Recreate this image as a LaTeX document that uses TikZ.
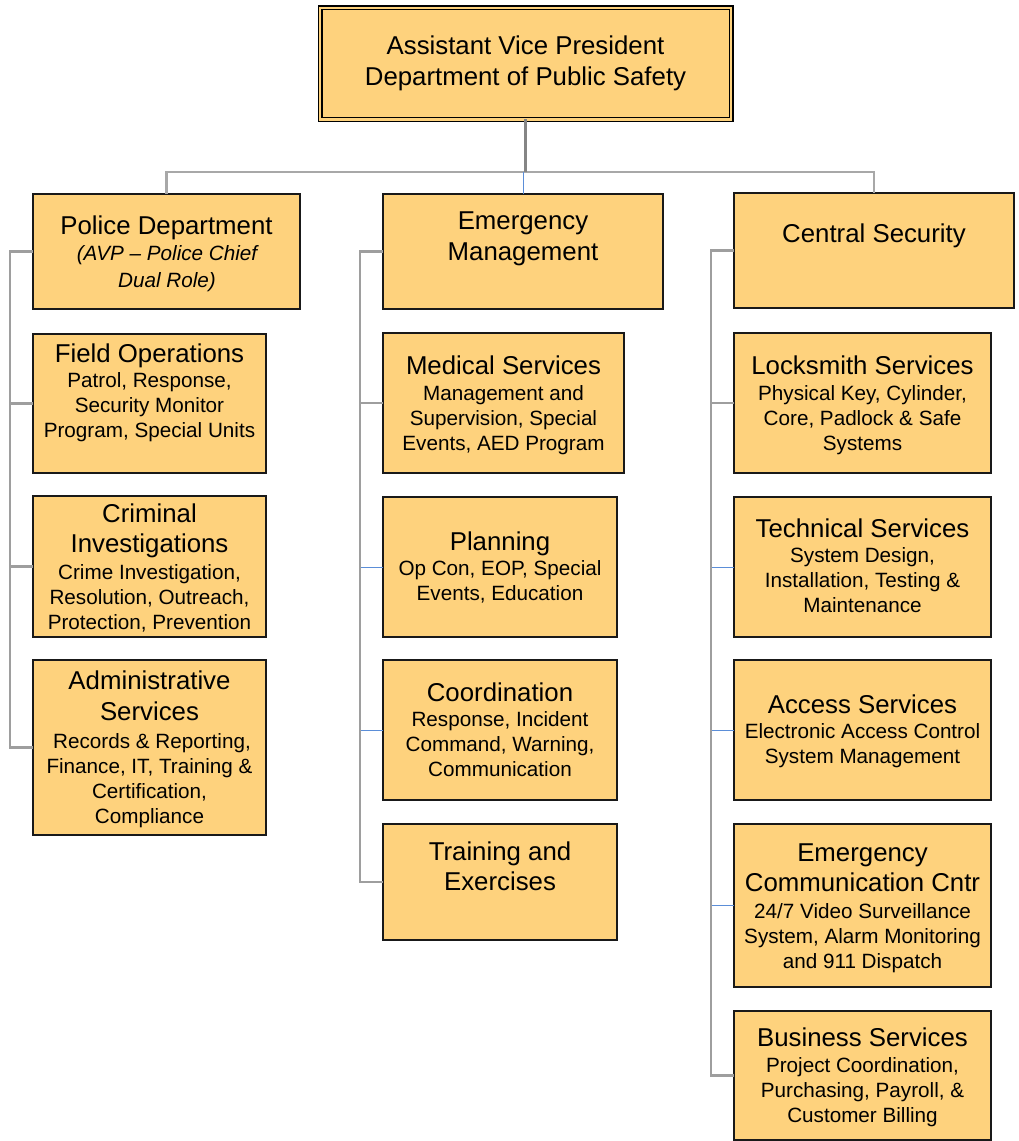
\documentclass[tikz,border=0pt]{standalone}
\usepackage{fontspec}
\setmainfont{Liberation Sans}
\definecolor{boxfill}{HTML}{FED27D}
\definecolor{conngray}{HTML}{9E9E9E}
\definecolor{busgray}{HTML}{A8A8A8}
\definecolor{topgray}{HTML}{858585}
\definecolor{connblue}{HTML}{5B8ED8}
\newcount\tcnt
\newcommand\bx[5]{\node[box, minimum width={(#4-#2)*0.75pt}, minimum height={(#5-#3)*0.75pt}] (#1) at ({(#2+#4)/2},{(#3+#5)/2}) {};}
\newcommand\tline[4]{\global\advance\tcnt by 1 \node[#3] (t\the\tcnt) at (#1,#2) {#4};}
\begin{document}
\begin{tikzpicture}[x=0.75pt,y=-0.75pt,
  box/.style={draw=black!90, line width=1.1pt, fill=boxfill, inner sep=0pt, outer sep=0pt},
  hd/.style={font=\fontsize{19.35}{23}\selectfont, anchor=base, inner sep=0pt},
  sb/.style={font=\fontsize{15.5}{18.75}\selectfont, anchor=base, inner sep=0pt},
  sbi/.style={sb, font=\fontsize{15.5}{18.75}\selectfont\itshape},
  conn/.style={draw=conngray, line width=1.9pt},
  bconn/.style={draw=connblue, line width=0.75pt},
  busline/.style={draw=busgray, line width=1.6pt},
  tconn/.style={draw=topgray, line width=2.2pt}]
\useasboundingbox (0,0) rectangle (1018,1141);

% title box
\node[draw=black, line width=0.9pt, double=boxfill, double distance=1.95pt, fill=boxfill,
  inner sep=0pt, outer sep=0pt, minimum width={411*0.75pt}, minimum height={111.5*0.75pt}]
  (top) at (525.5,63.75) {};
\tline{525.5}{55}{hd}{Assistant Vice President}
\tline{525.5}{86}{hd}{Department of Public Safety}

% boxes
\bx{pd}{33}{194}{300}{309}
\bx{em}{383}{194}{663}{309}
\bx{cs}{734}{193}{1014}{308}
\bx{fo}{33}{334}{266}{473}
\bx{ci}{33}{496}{266}{637}
\bx{as}{33}{660}{266}{835}
\bx{ms}{383}{333}{624}{473}
\bx{pl}{383}{497}{617}{637}
\bx{co}{383}{660}{617}{800}
\bx{te}{383}{824}{617}{940}
\bx{ls}{734}{333}{991}{473}
\bx{ts}{734}{497}{991}{637}
\bx{ac}{734}{660}{991}{800}
\bx{ec}{734}{824}{991}{987}
\bx{bs}{734}{1011}{991}{1140}

% connectors from title
\coordinate (bus) at (525.5,172);
\draw[busline] (pd.north) |- (bus) -| (cs.north);
\draw[tconn] (top.south) -- (bus);
\draw[bconn] (bus -| em.north) -- (em.north);

% left column
\draw[conn] (pd.west) -- ++(-23,0) |- (as.west);
\draw[conn] (fo.west) -- ++(-23,0);
\draw[conn] (ci.west) -- ++(-23,0);
% middle column
\draw[conn] (em.west) -- ++(-23,0) |- (te.west);
\draw[conn] (ms.west) -- ++(-23,0);
\draw[bconn] (pl.west) -- ++(-22,0);
\draw[bconn] (co.west) -- ++(-22,0);
% right column
\draw[conn] (cs.west) -- ++(-23,0) |- (bs.west);
\draw[conn] (ls.west) -- ++(-23,0);
\draw[bconn] (ts.west) -- ++(-22,0);
\draw[bconn] (ac.west) -- ++(-22,0);
\draw[bconn] (ec.west) -- ++(-22,0);

% texts: left
\tline{166.5}{234}{hd}{Police Department}
\tline{167}{261}{sbi}{(AVP – Police Chief}
\tline{167}{287}{sbi}{Dual Role)}
\tline{149.5}{362}{hd}{Field Operations}
\tline{149.5}{387}{sb}{Patrol, Response,}
\tline{149.5}{412}{sb}{Security Monitor}
\tline{149.5}{437}{sb}{Program, Special Units}
\tline{149.5}{522}{hd}{Criminal}
\tline{149.5}{552}{hd}{Investigations}
\tline{149.5}{579}{sb}{Crime Investigation,}
\tline{149.5}{604}{sb}{Resolution, Outreach,}
\tline{149.5}{629}{sb}{Protection, Prevention}
\tline{149.5}{689}{hd}{Administrative}
\tline{149.5}{720}{hd}{Services}
\tline{152}{748}{sb}{Records \& Reporting,}
\tline{149.5}{773}{sb}{Finance, IT, Training \&}
\tline{149.5}{798}{sb}{Certification,}
\tline{149.5}{823}{sb}{Compliance}

% texts: middle
\tline{523}{229}{hd}{Emergency}
\tline{523}{260}{hd}{Management}
\tline{503.5}{374}{hd}{Medical Services}
\tline{503.5}{400}{sb}{Management and}
\tline{503.5}{425}{sb}{Supervision, Special}
\tline{503.5}{450}{sb}{Events, AED Program}
\tline{500}{550}{hd}{Planning}
\tline{500}{575.5}{sb}{Op Con, EOP, Special}
\tline{500}{600.5}{sb}{Events, Education}
\tline{500}{701}{hd}{Coordination}
\tline{500}{726.5}{sb}{Response, Incident}
\tline{500}{751.5}{sb}{Command, Warning,}
\tline{500}{776.5}{sb}{Communication}
\tline{500}{860}{hd}{Training and}
\tline{500}{890}{hd}{Exercises}

% texts: right
\tline{874}{243}{hd}{Central Security}
\tline{862.5}{374}{hd}{Locksmith Services}
\tline{862.5}{400}{sb}{Physical Key, Cylinder,}
\tline{862.5}{425}{sb}{Core, Padlock \& Safe}
\tline{862.5}{450}{sb}{Systems}
\tline{862.5}{537}{hd}{Technical Services}
\tline{862.5}{562.5}{sb}{System Design,}
\tline{862.5}{587.5}{sb}{Installation, Testing \&}
\tline{862.5}{612.5}{sb}{Maintenance}
\tline{862.5}{713}{hd}{Access Services}
\tline{862.5}{738.5}{sb}{Electronic Access Control}
\tline{862.5}{763.5}{sb}{System Management}
\tline{862.5}{861}{hd}{Emergency}
\tline{862.5}{891}{hd}{Communication Cntr}
\tline{862.5}{918}{sb}{24/7 Video Surveillance}
\tline{862.5}{943}{sb}{System, Alarm Monitoring}
\tline{862.5}{968}{sb}{and 911 Dispatch}
\tline{862.5}{1046}{hd}{Business Services}
\tline{862.5}{1072}{sb}{Project Coordination,}
\tline{862.5}{1097}{sb}{Purchasing, Payroll, \&}
\tline{862.5}{1122}{sb}{Customer Billing}
\end{tikzpicture}
\end{document}
